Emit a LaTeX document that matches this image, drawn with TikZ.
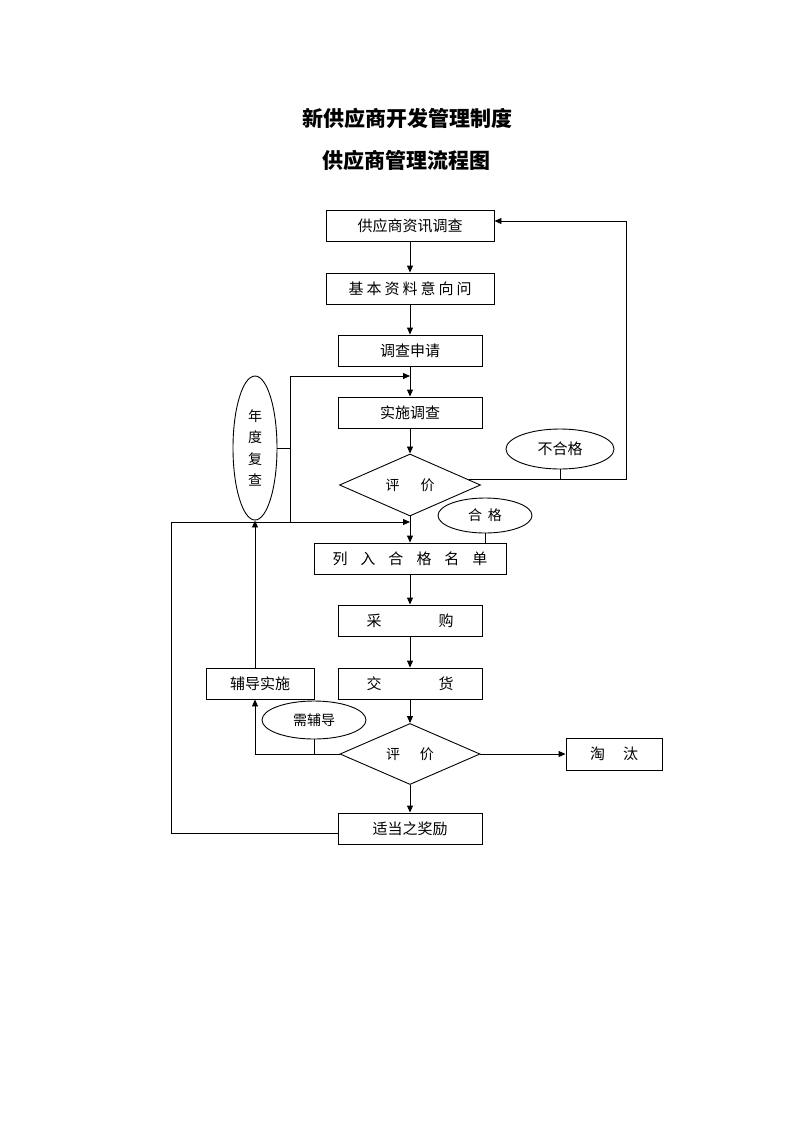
\documentclass[tikz,border=0pt]{standalone}
\usepackage{fontspec}
\setmainfont{Noto Sans CJK SC}
\usetikzlibrary{arrows.meta,shapes.geometric,calc}
\newcommand\gp[1]{\hspace{#1pt}}
\begin{document}
\begin{tikzpicture}[x=1pt,y=-1pt,
  every node/.style={inner sep=0pt,font=\fontsize{15}{18}\selectfont},
  box/.style={draw,line width=0.9pt,rectangle,minimum height=31pt},
  dia/.style={draw,line width=0.9pt,diamond,font=\fontsize{14}{16}\selectfont},
  ell/.style={draw,line width=0.9pt,ellipse},
  ln/.style={line width=0.9pt},
  arr/.style={line width=0.9pt,-{Triangle[length=7pt,width=6pt]}},
  ttl/.style={font=\fontsize{21}{24}\selectfont\bfseries}]
\useasboundingbox (0,0) rectangle (793,1122);
\fill[white] (0,0) rectangle (793,1122);
% titles
\node[ttl] (t1) at (407,118) {新供应商开发管理制度};
\node[ttl] (t2) at (406,160) {供应商管理流程图};
% boxes
\node[box,minimum width=168pt] (b1) at (410,225.5) {供应商资讯调查};
\node[box,minimum width=168pt] (b2) at (410,288.5) {基\gp3本\gp3资\gp3料\gp3意\gp3向\gp3问};
\node[box,minimum width=144pt] (b3) at (410,350.5) {调查申请};
\node[box,minimum width=144pt] (b4) at (410,412.5) {实施调查};
\node[dia,minimum width=141pt,minimum height=55pt] (d1) at (410,485) {评\gp{21}价};
\node[box,minimum width=192pt] (b5) at (410,558.5) {列\gp{13}入\gp{13}合\gp{13}格\gp{13}名\gp{13}单};
\node[box,minimum width=144pt] (b6) at (410,620.5) {采\gp{57}购};
\node[box,minimum width=144pt] (b7) at (410,683.5) {交\gp{57}货};
\node[box,minimum width=108pt] (aid) at (260,683.5) {辅导实施};
\node[dia,minimum width=140pt,minimum height=52pt] (d2) at (410,754) {评\gp{20}价};
\node[box,minimum width=96pt,minimum height=32pt] (tt) at (614,754) {淘\gp{18}汰};
\node[box,minimum width=144pt] (rw) at (410,828.5) {适当之奖励};
% ellipses
\node[ell,minimum width=108pt,minimum height=40pt] (nhg) at (560,449) {不合格};
\node[ell,minimum width=94pt,minimum height=35pt,font=\fontsize{14}{16}\selectfont] (hg) at (485,515.5) {合\gp{6}格};
\node[ell,minimum width=44pt,minimum height=144pt,align=center,font=\fontsize{14}{21.5}\selectfont] (ann) at (255,448) {年\\度\\复\\查};
\node[ell,minimum width=104pt,minimum height=38pt,font=\fontsize{14}{16}\selectfont] (xfd) at (314,720) {需辅导};
% coordinates
\coordinate (r1) at (626,221);
\coordinate (j1) at (290,376);
\coordinate (j2) at (290,522);
\coordinate (c1) at (410,376);
\coordinate (c2) at (410,522);
\coordinate (l1) at (171,522);
% main flow
\draw[arr] (b1) -- (b2);
\draw[arr] (b2) -- (b3);
\draw[arr] (b3) -- (b4);
\draw[arr] (b4) -- (d1);
\draw[arr] (d1) -- (b5);
\draw[arr] (b5) -- (b6);
\draw[arr] (b6) -- (b7);
\draw[arr] (b7) -- (d2);
\draw[arr] (d2) -- (rw);
\draw[arr] (d2) -- (tt);
% fail loop
\draw[arr] (d1.5) -| (r1) -- (b1.east |- r1);
\draw[ln] (nhg.south) -- (nhg.south |- d1.5);
\draw[ln] (hg.south) -- (hg.south |- b5.north);
% annual review
\draw[ln] (ann.east) -- (ann.east -| j1);
\draw[arr] (j2) |- (c1);
\draw[arr] ($(rw.west)+(0,5)$) -| (l1) -- (c2);
% coaching
\draw[arr] (d2.west) -| (aid.south -| ann.south);
\draw[arr] (aid.north -| ann.south) -- (ann.south);
\draw[ln] (xfd.south) -- (xfd.south |- d2.west);
\end{tikzpicture}
\end{document}
